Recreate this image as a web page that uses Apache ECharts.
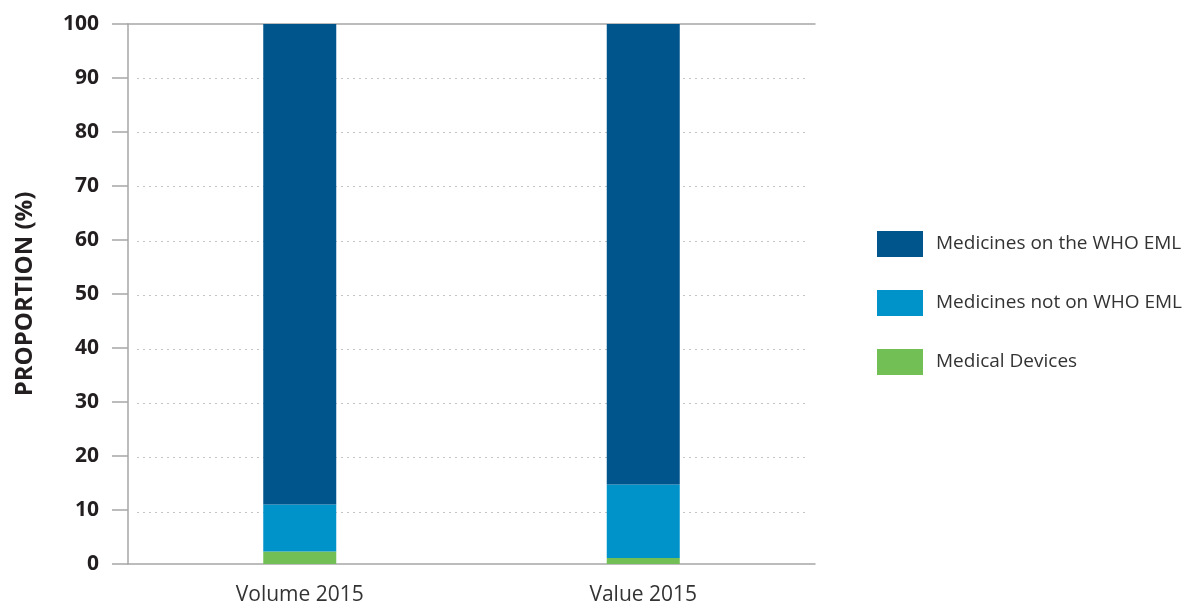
<!DOCTYPE html>
<html>
<head>
<meta charset="utf-8">
<script src="https://cdn.jsdelivr.net/npm/echarts@6/dist/echarts.min.js"></script>
<style>
  html, body { margin: 0; padding: 0; background: #fff; }
  #chart { width: 1188px; height: 606px; }
</style>
</head>
<body>
<div id="chart"></div>
<script>
// categories and values (percent)
const categories = ["Volume 2015", "Value 2015"];
const medicalDevices = [2.3, 1.1];
const notOnEml = [8.7, 13.6];
const onEml = [89.0, 85.3];
const yTicks = [0, 10, 20, 30, 40, 50, 60, 70, 80, 90, 100];

const FONT = "'Open Sans', 'Noto Sans', sans-serif";
const AXIS_GREY = "#a6a6a6";

const chart = echarts.init(document.getElementById("chart"));

const option = {
  animation: false,
  textStyle: { fontFamily: FONT },
  legend: {
    orient: "vertical",
    left: 872,
    top: 226,
    itemWidth: 46,
    itemHeight: 26,
    itemGap: 33,
    icon: "rect",
    data: ["Medicines on the WHO EML", "Medicines not on WHO EML", "Medical Devices"],
    textStyle: { fontSize: 19, color: "#333", fontFamily: FONT, padding: [0, 0, 0, 8] },
  },
  grid: [
    { left: 128, right: 373, top: 24, bottom: 40 },
    // second grid only for the inset dotted grid lines
    { left: 137, right: 383, top: 24, bottom: 40 },
  ],
  xAxis: [
    {
      type: "category",
      gridIndex: 0,
      data: categories,
      axisLine: { lineStyle: { color: AXIS_GREY, width: 1.5 } },
      axisTick: { show: false },
      axisLabel: { fontSize: 21, color: "#333", margin: 21, fontFamily: FONT },
    },
    {
      // solid line across the top of the plot
      type: "category",
      gridIndex: 0,
      position: "top",
      data: categories,
      axisLine: { lineStyle: { color: AXIS_GREY, width: 1.5 } },
      axisTick: { show: false },
      axisLabel: { show: false },
    },
    {
      type: "category",
      gridIndex: 1,
      data: categories,
      show: false,
    },
  ],
  yAxis: [
    {
      type: "value",
      gridIndex: 0,
      min: 0,
      max: 100,
      interval: 10,
      name: "PROPORTION (%)",
      nameLocation: "middle",
      nameGap: 91,
      nameTextStyle: { fontSize: 24, fontWeight: "bold", color: "#231f20", fontFamily: FONT },
      axisLine: { show: true, lineStyle: { color: AXIS_GREY, width: 1.5 } },
      axisTick: { show: true, length: 16, lineStyle: { color: AXIS_GREY, width: 1.5 } },
      axisLabel: {
        fontSize: 21,
        fontWeight: "bold",
        color: "#231f20",
        margin: 29,
        fontFamily: FONT,
        formatter: (v) => (yTicks.includes(v) ? String(v) : ""),
      },
      splitLine: { show: false },
    },
    {
      type: "value",
      gridIndex: 1,
      min: 0,
      max: 100,
      interval: 10,
      axisLine: { show: false },
      axisTick: { show: false },
      axisLabel: { show: false },
      splitLine: {
        show: true,
        lineStyle: { color: "#c4c4c4", type: [2, 4], width: 1 },
        showMinLine: false,
        showMaxLine: false,
      },
    },
  ],
  series: [
    {
      name: "Medical Devices",
      type: "bar",
      stack: "total",
      xAxisIndex: 0,
      yAxisIndex: 0,
      barWidth: 73,
      data: medicalDevices,
      itemStyle: { color: "#72bf56" },
    },
    {
      name: "Medicines not on WHO EML",
      type: "bar",
      stack: "total",
      xAxisIndex: 0,
      yAxisIndex: 0,
      barWidth: 73,
      data: notOnEml,
      itemStyle: { color: "#0093c9" },
    },
    {
      name: "Medicines on the WHO EML",
      type: "bar",
      stack: "total",
      xAxisIndex: 0,
      yAxisIndex: 0,
      barWidth: 73,
      data: onEml,
      itemStyle: { color: "#00558c" },
    },
    {
      // empty series that places the dotted grid lines on grid 1
      type: "bar",
      xAxisIndex: 2,
      yAxisIndex: 1,
      data: [],
      silent: true,
    },
  ],
};

chart.setOption(option);
</script>
</body>
</html>
